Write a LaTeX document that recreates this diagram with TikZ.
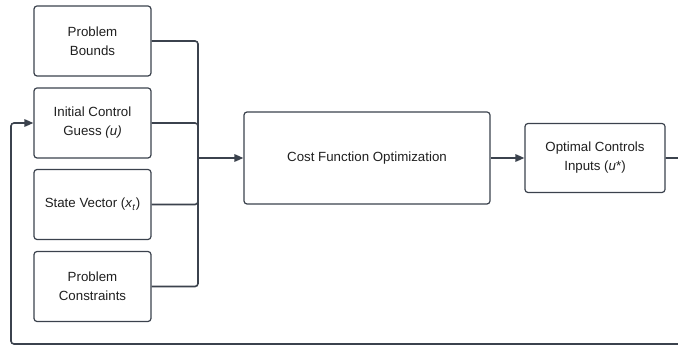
\documentclass[tikz,border=0pt]{standalone}
\usepackage{fontspec}
\setmainfont{Liberation Sans}
\usepackage{tikz}
\usetikzlibrary{arrows.meta,
	positioning,
	calc}
\definecolor{edgegray}{HTML}{3B424D}
\definecolor{textgray}{HTML}{1F1F1F}
\tikzset{
	block/.style={draw=edgegray, line width=1.2pt, rounded corners=3pt, align=center,
		text=textgray, font=\fontsize{13.3}{19}\selectfont, inner sep=0pt},
	inbox/.style={block, minimum width=117pt, minimum height=70pt},
	flow/.style={draw=edgegray, line width=1.6pt, rounded corners=3pt},
	flowarrow/.style={flow, -{Triangle[length=9pt,width=7.5pt]}}
}

\begin{document}
\begin{tikzpicture}[x=1pt, y=-1pt]
	\useasboundingbox (0,0) rectangle (678,347);
	\clip (0,0) rectangle (678,347);
	% inputs on the left
	\node[inbox] (bounds) at (92.5, 41) {Problem\\Bounds};
	\node[inbox] (guess) at (92.5, 123) {Initial Control\\Guess \textit{(u)}};
	\node[inbox] (state) at (92.5, 204.5) {State Vector (\textit{x}\textsubscript{\textit{t}})};
	\node[inbox] (constr) at (92.5, 286.5) {Problem\\Constraints};
	% optimizer and its output
	\node[block, minimum width=246pt, minimum height=92pt] (cost) at (367, 158) {Cost Function Optimization};
	\node[block, minimum width=140pt, minimum height=69pt] (optim) at (595, 158) {Optimal Controls\\Inputs (\textit{u}*)};
	\coordinate (join) at (198, 158);
	\coordinate (back) at (11, 344);
	% gather inputs into one bus
	\draw[flow] (bounds.east) -| (join);
	\draw[flow] (guess.east) -| (join);
	\draw[flow] (state.east) -| (join);
	\draw[flow] (constr.east) -| (join);
	\draw[flowarrow] (join) -- (cost.west);
	\draw[flowarrow] (cost.east) -- (optim.west);
	% feedback of the applied controls
	\draw[flowarrow] (optim.east) -- ++(18,0) |- (back) |- (guess.west);
\end{tikzpicture}
\end{document}
